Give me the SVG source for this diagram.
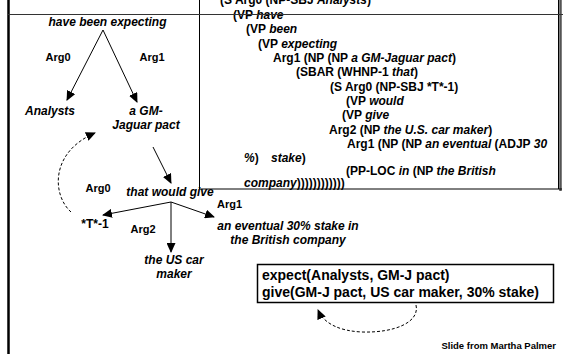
<svg xmlns="http://www.w3.org/2000/svg" width="563" height="354" viewBox="0 0 563 354">
<defs>
<marker id="ah" markerUnits="userSpaceOnUse" markerWidth="10" markerHeight="9" refX="9" refY="4.5" orient="auto">
<path d="M0,0 L10,4.5 L0,9 z" fill="#000"/>
</marker>
<style>
text{font-family:"Liberation Sans",Arial,sans-serif;font-weight:bold;fill:#000}
.it{font-style:italic}
.lbl{font-size:12px;font-style:italic}
.arg{font-size:11px}
.tree{font-size:12px}
.ln{stroke:#000;stroke-width:1;fill:none}
.dash{stroke:#000;stroke-width:1;fill:none;stroke-dasharray:3,2}
</style>
</defs>
<rect width="563" height="354" fill="#fff"/>
<line x1="8.5" y1="0" x2="8.5" y2="354" stroke="#000" stroke-width="2.5"/>
<g id="tree-box">
<line x1="558.5" y1="0" x2="558.5" y2="189" stroke="#000" stroke-width="1"/>
<line x1="560.5" y1="0" x2="560.5" y2="191" stroke="#555" stroke-width="2.5"/>
<line x1="199.5" y1="189" x2="562" y2="189" stroke="#000" stroke-width="1"/>
<line x1="199.5" y1="0" x2="199.5" y2="189" stroke="#000" stroke-width="1"/>
<text class="tree" x="220" y="4">(S Arg0 (NP-SBJ <tspan class="it">Analysts</tspan>)</text>
<text class="tree" x="233" y="19">(VP <tspan class="it">have</tspan></text>
<text class="tree" x="246" y="33">(VP <tspan class="it">been</tspan></text>
<text class="tree" x="258" y="47.5">(VP <tspan class="it">expecting</tspan></text>
<text class="tree" x="273" y="62">Arg1 (NP (NP <tspan class="it">a GM-Jaguar pact</tspan>)</text>
<text class="tree" x="296" y="76">(SBAR (WHNP-1 <tspan class="it">that</tspan>)</text>
<text class="tree" x="330" y="90.5">(S Arg0 (NP-SBJ *T*-1)</text>
<text class="tree" x="346" y="105">(VP <tspan class="it">would</tspan></text>
<text class="tree" x="342" y="119">(VP <tspan class="it">give</tspan></text>
<text class="tree" x="329" y="133.5">Arg2 (NP <tspan class="it">the U.S. car maker</tspan>)</text>
<text class="tree" x="347" y="148">Arg1 (NP (NP <tspan class="it">an eventual</tspan> (ADJP <tspan class="it">30</tspan></text>
<text class="tree" x="244" y="161.5"><tspan class="it">%</tspan>)<tspan x="271" class="it">stake</tspan>)</text>
<text class="tree" x="346" y="175">(PP-LOC <tspan class="it">in</tspan> (NP <tspan class="it">the British</tspan></text>
<text class="tree" x="244" y="186.5"><tspan class="it">company</tspan>))))))))))))</text>
</g>
<line x1="8" y1="14.5" x2="563" y2="14.5" stroke="#333" stroke-width="1"/>
<g id="connectors">
<line class="ln" x1="103" y1="30" x2="67" y2="100" marker-end="url(#ah)"/>
<line class="ln" x1="103" y1="30" x2="137" y2="102" marker-end="url(#ah)"/>
<path class="dash" d="M71,212 C52,195 50,152 95,133" marker-end="url(#ah)"/>
<line class="ln" x1="153" y1="147" x2="171" y2="183" marker-end="url(#ah)"/>
<line class="ln" x1="171" y1="202" x2="103" y2="215" marker-end="url(#ah)"/>
<line class="ln" x1="171" y1="202" x2="171" y2="252" marker-end="url(#ah)"/>
<line class="ln" x1="171" y1="202" x2="214" y2="217" marker-end="url(#ah)"/>
<path class="dash" d="M416,305 C420,322 395,333 362,332 C340,331 324,324 318,310" marker-end="url(#ah)"/>
</g>
<g id="n-expecting"><text class="lbl" x="107.5" y="26" text-anchor="middle">have been expecting</text></g>
<g id="n-analysts"><text class="lbl" x="50" y="115" text-anchor="middle">Analysts</text></g>
<g id="n-pact"><text class="lbl" x="146" y="115" text-anchor="middle">a GM-</text><text class="lbl" x="146" y="129" text-anchor="middle">Jaguar pact</text></g>
<g id="n-give"><text class="lbl" x="170" y="196" text-anchor="middle">that would give</text></g>
<g id="n-trace"><text x="95" y="228" text-anchor="middle" style="font-size:12px">*T*-1</text></g>
<g id="n-carmaker"><text class="lbl" x="174" y="264" text-anchor="middle">the US car</text><text class="lbl" x="174" y="278" text-anchor="middle">maker</text></g>
<g id="n-stake"><text class="lbl" x="288" y="230" text-anchor="middle">an eventual 30% stake in</text><text class="lbl" x="288" y="244" text-anchor="middle">the British company</text></g>
<g id="labels">
<text class="arg" x="58" y="61" text-anchor="middle">Arg0</text>
<text class="arg" x="152" y="61" text-anchor="middle">Arg1</text>
<text class="arg" x="98" y="192" text-anchor="middle">Arg0</text>
<text class="arg" x="217" y="208">Arg1</text>
<text class="arg" x="143" y="233" text-anchor="middle">Arg2</text>
</g>
<g id="n-logic">
<rect x="257.5" y="264.5" width="296" height="38" fill="#fff" stroke="#000" stroke-width="1.5"/>
<text x="262" y="280" style="font-size:14px">expect(Analysts, GM-J pact)</text>
<text x="262" y="297" style="font-size:14px">give(GM-J pact, US car maker, 30% stake)</text>
</g>
<text x="556" y="349" text-anchor="end" style="font-size:9.5px">Slide from Martha Palmer</text>
</svg>
